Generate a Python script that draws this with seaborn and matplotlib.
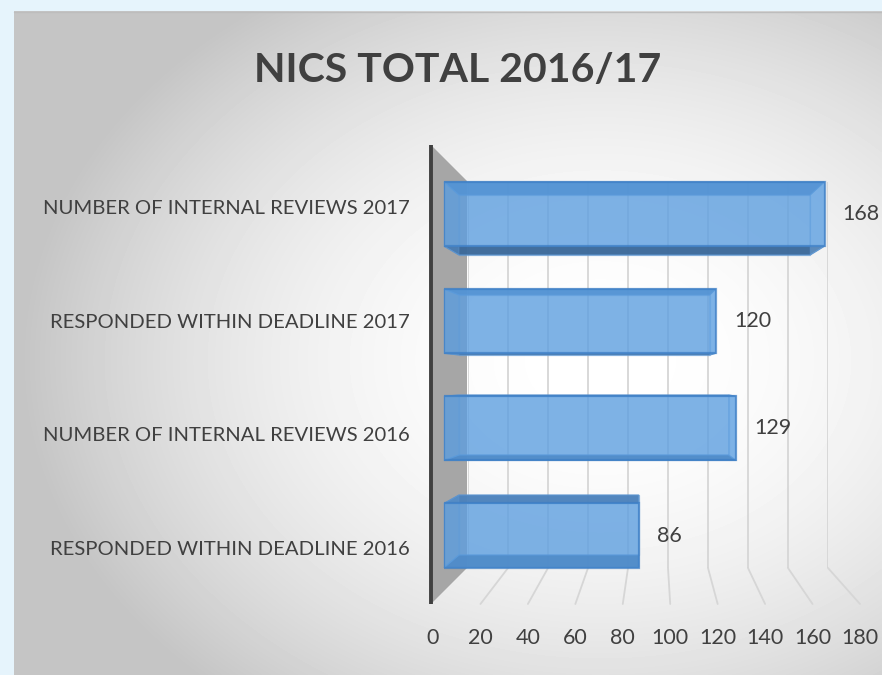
import numpy as np
import pandas as pd
import matplotlib
matplotlib.use("Agg")
import matplotlib.pyplot as plt
import seaborn as sns
from matplotlib.patches import Polygon

# data
categories = ["NUMBER OF INTERNAL REVIEWS 2017", "RESPONDED WITHIN DEADLINE 2017",
              "NUMBER OF INTERNAL REVIEWS 2016", "RESPONDED WITHIN DEADLINE 2016"]
counts = [168, 120, 129, 86]
x_ticks = [0, 20, 40, 60, 80, 100, 120, 140, 160, 180]
title = "NICS TOTAL 2016/17"

df = pd.DataFrame({"category": categories, "count": counts})

sns.set_theme(style="white")
plt.rcParams["font.family"] = ["Lato", "DejaVu Sans"]
text_col = "#404040"

W, H = 882, 675
fig = plt.figure(figsize=(W / 100, H / 100), dpi=100)
fig.patch.set_facecolor("#e6f4fc")


def box(x0, y0, x1, y1):
    # pixel box, origin top-left -> figure fraction rect
    return [x0 / W, 1 - y1 / H, (x1 - x0) / W, (y1 - y0) / H]


# background panel with radial gradient
ax_bg = fig.add_axes([0, 0, 1, 1], zorder=0)
xs = np.arange(14, W)
ys = np.arange(11, H)
gx, gy = np.meshgrid(xs, ys)
r = np.sqrt(((gx - 600) / 580.0) ** 2 + ((gy - 360) / 440.0) ** 2)
shade = 1 - 0.23 * np.clip(r, 0, 1) ** 2
ax_bg.imshow(shade, cmap="gray", vmin=0, vmax=1, extent=(14, W, H, 11),
             aspect="auto", interpolation="bilinear")
ax_bg.plot([14, W], [11.5, 11.5], color="#bdbdbd", lw=1)
ax_bg.set_xlim(0, W)
ax_bg.set_ylim(H, 0)
ax_bg.axis("off")

# side wall
ax_bg.add_patch(Polygon([(431, 145), (467, 181), (467, 568), (431, 604)],
                        closed=True, facecolor="#a6a6a6", edgecolor="none"))
ax_bg.plot([431, 431], [145, 604], color="#404040", lw=2.8, solid_capstyle="butt")

# back wall gridlines
ax_grid = fig.add_axes(box(468, 182, 828, 568), zorder=1)
ax_grid.set_xlim(0, 180)
ax_grid.set_ylim(0, 1)
ax_grid.set_xticks(x_ticks)
ax_grid.set_yticks([])
ax_grid.grid(axis="x", color="#d6d6d6", lw=1.3)
ax_grid.tick_params(labelbottom=False, length=0)
ax_grid.patch.set_alpha(0)
sns.despine(ax=ax_grid, left=True, bottom=True)

# floor front edge with tick labels
ax_ticks = fig.add_axes(box(433, 568, 860, 604), zorder=1)
ax_ticks.set_xlim(0, 180)
ax_ticks.set_ylim(0, 1)
ax_ticks.set_xticks(x_ticks)
ax_ticks.set_yticks([])
ax_ticks.tick_params(axis="x", length=0, pad=17, labelsize=15.5, labelcolor=text_col)
ax_ticks.patch.set_alpha(0)
sns.despine(ax=ax_ticks, left=True, bottom=True)

# category labels on the side wall
ax_wall = fig.add_axes(box(431, 150, 468, 605), zorder=1)
ax_wall.set_ylim(len(categories) - 0.5, -0.5)
ax_wall.set_yticks(range(len(categories)), labels=categories)
ax_wall.set_xticks([])
ax_wall.tick_params(axis="y", length=0, pad=15, labelsize=14.6, labelcolor=text_col)
ax_wall.patch.set_alpha(0)
sns.despine(ax=ax_wall, left=True, bottom=True)

# back faces of the bars
ax_bk = fig.add_axes(box(459, 175, 835.2, 575), zorder=2)
sns.barplot(data=df, x="count", y="category", order=categories, orient="h",
            color="#6ea6dc", saturation=1, width=0.6, errorbar=None, ax=ax_bk,
            alpha=0.35, edgecolor="#5b94d0", linewidth=1)
ax_bk.set_xlim(0, 180)
ax_bk.set_ylim(len(categories) - 0.5, -0.5)
ax_bk.axis("off")

# front faces of the bars
ax_front = fig.add_axes(box(444, 160.4, 851.7, 589.1), zorder=3)
sns.barplot(data=df, x="count", y="category", order=categories, orient="h",
            color="#5a9de0", saturation=1, width=0.6, errorbar=None, ax=ax_front,
            alpha=0.68, edgecolor="#3a7cc4", linewidth=1.6)
ax_front.set_xlim(0, 180)
ax_front.set_ylim(len(categories) - 0.5, -0.5)
ax_front.bar_label(ax_front.containers[0], padding=13, fontsize=15.5, color=text_col)
ax_front.axis("off")

# sides of the boxes, joining front and back faces
fig.canvas.draw()
to_bk = ax_bk.transData.inverted()
for fp, bp in zip(ax_front.patches, ax_bk.patches):
    f = fp.get_window_extent()
    b = bp.get_window_extent()
    faces = [
        ([(f.x0, f.y0), (f.x1, f.y0), (b.x1, b.y0), (b.x0, b.y0)], "#3b6899", 0.95),
        ([(f.x0, f.y1), (f.x1, f.y1), (b.x1, b.y1), (b.x0, b.y1)], "#4c82bc", 0.95),
        ([(f.x0, f.y0), (f.x0, f.y1), (b.x0, b.y1), (b.x0, b.y0)], "#5f9ad6", 0.4),
        ([(f.x1, f.y0), (f.x1, f.y1), (b.x1, b.y1), (b.x1, b.y0)], "#7db4ea", 0.4),
    ]
    for pts, col, a in faces:
        ax_bk.add_patch(Polygon(to_bk.transform(pts), closed=True, facecolor=col,
                                edgecolor="#5b94d0", lw=0.8, alpha=a, clip_on=False))

# floor lines from front edge to back wall
to_bg = ax_bg.transData.inverted()
for v in x_ticks[1:]:
    p_front = to_bg.transform(ax_ticks.transData.transform((v, 0)))
    p_back = to_bg.transform(ax_grid.transData.transform((v, 0)))
    ax_bg.plot([p_front[0], p_back[0]], [p_front[1], p_back[1]], color="#d6d6d6", lw=1.3)

fig.text(458 / W, 1 - 70 / H, title, ha="center", va="center", fontsize=29.5,
         fontweight="bold", color=text_col)

fig.savefig("out.png", dpi=100)
